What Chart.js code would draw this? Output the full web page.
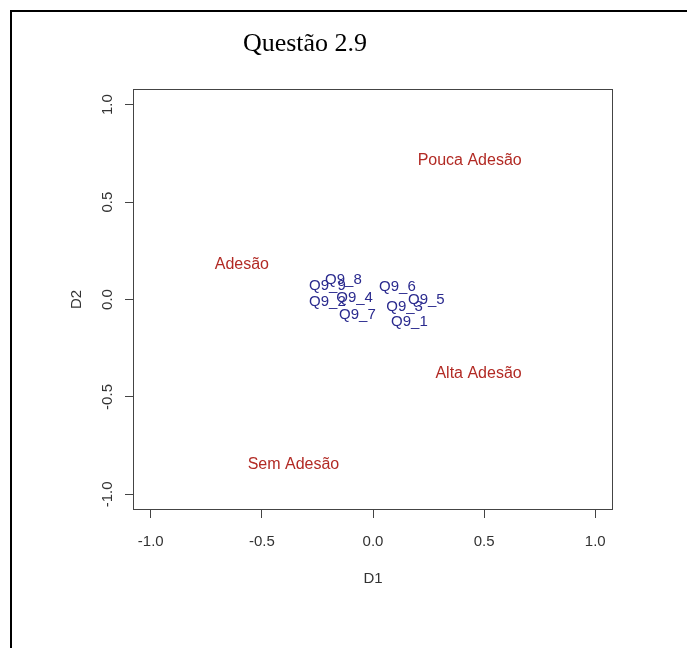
<!DOCTYPE html>
<html lang="pt">
  <head>
    <meta charset="UTF-8" />
    <script src="https://cdn.jsdelivr.net/npm/chart.js@4.4.0/dist/chart.umd.min.js"></script>
    <title>Questão 2.9</title>
    <style>
      html, body { margin: 0; padding: 0; background: #fff; }
      #chart { display: block; }
    </style>
  </head>
  <body>
    <canvas id="chart" width="687" height="648"></canvas>
    <script>
      // item points (blue)
      const itemLabels = ["Q9_1", "Q9_2", "Q9_3", "Q9_4", "Q9_5", "Q9_6", "Q9_7", "Q9_8", "Q9_9"];
      const itemD1 = [0.164, -0.205, 0.142, -0.083, 0.24, 0.11, -0.07, -0.133, -0.205];
      const itemD2 = [-0.116, -0.01, -0.037, 0.007, 0.0, 0.066, -0.08, 0.1, 0.07];

      // category points (red)
      const catLabels = ["Pouca Adesão", "Adesão", "Alta Adesão", "Sem Adesão"];
      const catD1 = [0.435, -0.59, 0.475, -0.358];
      const catD2 = [0.712, 0.178, -0.38, -0.845];

      const tickValues = [-1.0, -0.5, 0.0, 0.5, 1.0];
      const axisMin = -1.08;
      const axisMax = 1.08;

      const sans = "'Liberation Sans', Arial, sans-serif";

      const itemPoints = itemD1.map((x, i) => ({ x: x, y: itemD2[i], label: itemLabels[i] }));
      const catPoints = catD1.map((x, i) => ({ x: x, y: catD2[i], label: catLabels[i] }));

      const setTicks = (scale) => {
        scale.ticks = tickValues.map((v) => ({ value: v }));
      };

      const decorPlugin = {
        id: "decor",
        beforeDraw(chart) {
          const ctx = chart.ctx;
          ctx.save();
          ctx.fillStyle = "#fff";
          ctx.fillRect(0, 0, chart.width, chart.height);
          // frame around the figure
          ctx.strokeStyle = "#000";
          ctx.lineWidth = 2;
          ctx.strokeRect(11, 11, 720, 720);
          // title
          ctx.fillStyle = "#000";
          ctx.font = "26px 'Liberation Serif', 'Times New Roman', serif";
          ctx.textAlign = "center";
          ctx.textBaseline = "alphabetic";
          ctx.fillText("Questão 2.9", 305, 51);
          ctx.restore();
        },
        afterDatasetsDraw(chart) {
          const ctx = chart.ctx;
          const xs = chart.scales.x;
          const ys = chart.scales.y;
          const a = chart.chartArea;
          ctx.save();
          // box
          ctx.strokeStyle = "#444";
          ctx.lineWidth = 1;
          ctx.strokeRect(Math.round(a.left) + 0.5, Math.round(a.top) + 0.5,
            Math.round(a.right - a.left) - 1, Math.round(a.bottom - a.top) - 1);

          // y tick labels, rotated like R
          ctx.fillStyle = "#333";
          ctx.font = "15px " + sans;
          ctx.textAlign = "center";
          ctx.textBaseline = "middle";
          ys.ticks.forEach((t) => {
            const py = ys.getPixelForValue(t.value);
            ctx.save();
            ctx.translate(108, py);
            ctx.rotate(-Math.PI / 2);
            ctx.fillText(t.value.toFixed(1), 0, 0);
            ctx.restore();
          });

          // axis titles
          ctx.fillText("D1", xs.getPixelForValue(0), 579);
          ctx.save();
          ctx.translate(77, ys.getPixelForValue(0));
          ctx.rotate(-Math.PI / 2);
          ctx.fillText("D2", 0, 0);
          ctx.restore();

          // point labels
          ctx.font = "16px " + sans;
          ctx.fillStyle = "#B22A24";
          catPoints.forEach((p) => {
            ctx.fillText(p.label, xs.getPixelForValue(p.x), ys.getPixelForValue(p.y));
          });
          ctx.font = "15px " + sans;
          ctx.fillStyle = "#2A2A8E";
          itemPoints.forEach((p) => {
            ctx.fillText(p.label, xs.getPixelForValue(p.x), ys.getPixelForValue(p.y));
          });
          ctx.restore();
        },
      };

      new Chart(document.getElementById("chart"), {
        type: "scatter",
        data: {
          datasets: [
            { data: itemPoints, pointRadius: 0, pointHoverRadius: 0 },
            { data: catPoints, pointRadius: 0, pointHoverRadius: 0 },
          ],
        },
        options: {
          responsive: false,
          animation: false,
          events: [],
          layout: { padding: { top: 89, right: 74, left: 0, bottom: 0 } },
          plugins: {
            legend: { display: false },
            tooltip: { enabled: false },
          },
          scales: {
            x: {
              type: "linear",
              min: axisMin,
              max: axisMax,
              afterBuildTicks: setTicks,
              afterFit: (scale) => { scale.height = 138; },
              border: { display: false },
              grid: { drawOnChartArea: false, drawTicks: true, tickLength: 8, color: "#444" },
              ticks: {
                color: "#333",
                padding: 15,
                font: { family: sans, size: 15 },
                callback: (v) => Number(v).toFixed(1),
              },
            },
            y: {
              type: "linear",
              min: axisMin,
              max: axisMax,
              afterBuildTicks: setTicks,
              afterFit: (scale) => { scale.width = 133; },
              border: { display: false },
              grid: { drawOnChartArea: false, drawTicks: true, tickLength: 8, color: "#444" },
              ticks: { display: false },
            },
          },
        },
        plugins: [decorPlugin],
      });
    </script>
  </body>
</html>
